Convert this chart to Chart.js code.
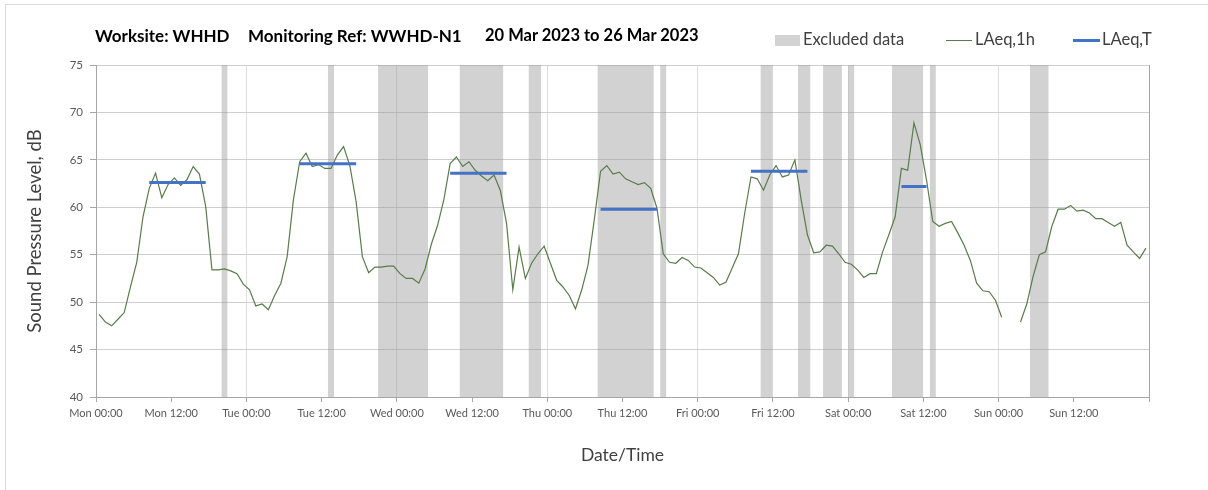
<!DOCTYPE html>
<html>
<head>
<meta charset="utf-8">
<script src="https://cdn.jsdelivr.net/npm/chart.js@4.4.0/dist/chart.umd.min.js"></script>
<style>
body { margin: 0; background: #fff; font-family: Lato, sans-serif; }
#wrap { position: relative; width: 1208px; height: 490px; overflow: hidden; }
#frame { position: absolute; left: 5px; top: 4px; width: 1210px; height: 500px; border-left: 1px solid #d9d9d9; border-top: 1px solid #d9d9d9; }
canvas { position: absolute; left: 0; top: 0; }
.t { position: absolute; top: 25px; font-weight: bold; font-size: 16.5px; color: #000; white-space: nowrap; }
.lg { position: absolute; top: 29px; font-size: 16.5px; color: #404040; white-space: nowrap; }
.sw { position: absolute; }
</style>
</head>
<body>
<div id="wrap">
  <div id="frame"></div>
  <canvas id="myChart" width="1208" height="490"></canvas>
  <div class="t" style="left:95px;font-size:17px">Worksite: WHHD</div>
  <div class="t" style="left:248px;font-size:17px">Monitoring Ref: WWHD-N1</div>
  <div class="t" style="left:485px">20 Mar 2023 to 26 Mar 2023</div>
  <div class="sw" style="left:775px;top:35px;width:25px;height:11px;background:#d3d3d3"></div>
  <div class="lg" style="left:803px">Excluded data</div>
  <div class="sw" style="left:946px;top:40px;width:26px;height:1px;background:#5a7b4b"></div>
  <div class="lg" style="left:975px">LAeq,1h</div>
  <div class="sw" style="left:1073px;top:39px;width:27px;height:3px;background:#4472c4"></div>
  <div class="lg" style="left:1102px">LAeq,T</div>
</div>
<script>
// hourly LAeq,1h, Mon 00:00 onwards (one value per hour, plotted mid-hour)
const laeq1h = [
	48.7, 47.9, 47.5, 48.2, 48.9, 51.6, 54.2, 59.0, 62.0, 63.6, 61.0, 62.4,
	63.1, 62.3, 62.9, 64.3, 63.5, 60.1, 53.4, 53.4, 53.5, 53.3, 53.0, 51.9,
	51.3, 49.6, 49.8, 49.2, 50.7, 52.0, 54.8, 60.8, 64.8, 65.7, 64.3, 64.5,
	64.1, 64.1, 65.5, 66.4, 64.4, 60.6, 54.8, 53.1, 53.7, 53.7, 53.8, 53.8,
	53.0, 52.5, 52.5, 52.0, 53.5, 56.1, 58.1, 60.8, 64.6, 65.3, 64.3, 64.8,
	63.9, 63.3, 62.8, 63.4, 61.8, 58.3, 51.3, 55.8, 52.5, 54.1, 55.1, 55.9,
	54.1, 52.3, 51.6, 50.7, 49.3, 51.3, 53.9, 58.7, 63.8, 64.4, 63.5, 63.7,
	63.0, 62.7, 62.4, 62.6, 62.0, 59.9, 55.1, 54.2, 54.1, 54.7, 54.4, 53.7,
	53.6, 53.1, 52.6, 51.8, 52.1, 53.6, 55.1, 59.4, 63.2, 63.0, 61.8, 63.4,
	64.4, 63.2, 63.4, 65.0, 60.8, 57.1, 55.2, 55.3, 56.0, 55.9, 55.1, 54.2,
	54.0, 53.4, 52.6, 53.0, 53.0, 55.3, 57.1, 59.0, 64.1, 63.9, 68.9, 66.6,
	62.9, 58.5, 58.0, 58.3, 58.5, 57.3, 56.0, 54.4, 52.0, 51.2, 51.1, 50.2,
	48.4, null, null, 47.9, 49.8, 52.7, 55.0, 55.3, 58.0, 59.8, 59.8, 60.2,
	59.6, 59.7, 59.4, 58.8, 58.8, 58.4, 58.0, 58.4, 56.0, 55.3, 54.6, 55.7
];

// LAeq,T daytime periods (hours from Mon 00:00)
const laeqTStart = [8.5, 32.5, 56.5, 80.5, 104.5, 128.5];
const laeqTEnd = [17.5, 41.5, 65.5, 89.5, 113.5, 132.5];
const laeqTValue = [62.6, 64.6, 63.6, 59.8, 63.8, 62.2];

// excluded data periods (hours from Mon 00:00)
const excludedStart = [20, 37, 45, 58, 69, 80, 90, 106, 112, 116, 120, 127, 133, 149];
const excludedEnd = [21, 38, 53, 65, 71, 89, 91, 108, 114, 119, 121, 132, 134, 152];

const dayNames = ['Mon', 'Tue', 'Wed', 'Thu', 'Fri', 'Sat', 'Sun'];
const tickHours = [0, 12, 24, 36, 48, 60, 72, 84, 96, 108, 120, 132, 144, 156, 168];

const linePoints = laeq1h.map((v, i) => ({ x: i + 0.5, y: v }));

const tPoints = [];
laeqTStart.forEach((s, i) => {
	tPoints.push({ x: s, y: laeqTValue[i] }, { x: laeqTEnd[i], y: laeqTValue[i] }, { x: laeqTEnd[i] + 0.1, y: null });
});

const bandPoints = [];
excludedStart.forEach((s, i) => {
	bandPoints.push({ x: s, y: 75 }, { x: excludedEnd[i], y: 75 }, { x: excludedEnd[i] + 0.01, y: null });
});

function tickLabel(v) {
	if (v >= 168) return '';
	return dayNames[Math.floor(v / 24)] + (v % 24 === 0 ? ' 00:00' : ' 12:00');
}

const ctx = document.getElementById('myChart').getContext('2d');
const myChart = new Chart(ctx, {
	type: 'line',
	data: {
		datasets: [{
			label: 'Excluded data',
			data: bandPoints,
			borderWidth: 0,
			pointRadius: 0,
			fill: 'start',
			backgroundColor: 'rgba(150,150,150,0.43)',
			spanGaps: false,
			order: 3
		}, {
			label: 'LAeq,1h',
			data: linePoints,
			borderColor: '#5a7b4b',
			borderWidth: 1.2,
			pointRadius: 0,
			fill: false,
			spanGaps: false,
			order: 2
		}, {
			label: 'LAeq,T',
			data: tPoints,
			borderColor: '#4472c4',
			borderWidth: 3,
			pointRadius: 0,
			fill: false,
			spanGaps: false,
			order: 1
		}]
	},
	options: {
		responsive: false,
		animation: false,
		layout: { padding: { left: 5, top: 65, right: 59, bottom: 0 } },
		plugins: { legend: { display: false }, tooltip: { enabled: false } },
		scales: {
			x: {
				type: 'linear',
				min: 0,
				max: 168,
				afterFit(s) { s.height = 93; },
				afterBuildTicks(s) { s.ticks = tickHours.map(v => ({ value: v })); },
				ticks: {
					autoSkip: false,
					maxRotation: 0,
					padding: 5,
					color: '#595959',
					font: { family: 'Lato', size: 11 },
					callback: v => tickLabel(v)
				},
				grid: {
					color: c => {
						const v = c.tick ? c.tick.value : 0;
						if (v === 168) return '#a6a6a6';
						if (v % 24 === 0 && v > 0) return '#dedede';
						return 'rgba(0,0,0,0)';
					},
					tickColor: '#a6a6a6',
					tickLength: 5
				},
				border: { color: '#a6a6a6' },
				title: {
					display: true,
					text: 'Date/Time',
					color: '#404040',
					font: { family: 'Lato', size: 17.5 },
					padding: { top: 0, bottom: 24 }
				}
			},
			y: {
				min: 40,
				max: 75,
				afterFit(s) { s.width = 91; },
				ticks: {
					stepSize: 5,
					padding: 7,
					color: '#595959',
					font: { family: 'Lato', size: 11.5 }
				},
				grid: { color: '#cfcfcf', tickColor: '#a6a6a6', tickLength: 6 },
				border: { color: '#a6a6a6' },
				title: {
					display: true,
					text: 'Sound Pressure Level, dB',
					color: '#404040',
					font: { family: 'Lato', size: 18.5 },
					padding: { top: 19, bottom: 0 }
				}
			}
		}
	}
});
</script>
</body>
</html>
